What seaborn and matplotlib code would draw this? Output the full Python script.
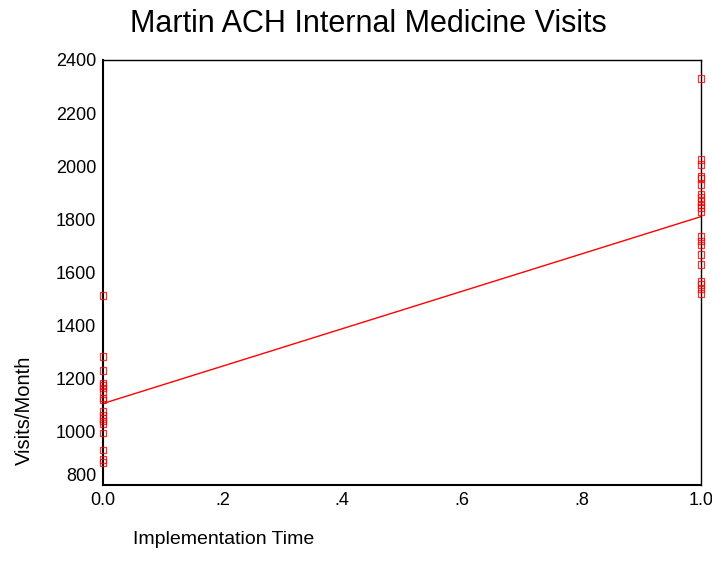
import matplotlib
matplotlib.use("Agg")
import matplotlib.pyplot as plt
import seaborn as sns
import pandas as pd
import numpy as np

# Data
before_visits = [1514, 1283, 1232, 1184, 1175, 1165, 1152, 1127, 1120, 1076,
                 1063, 1051, 1041, 1031, 995, 932, 896, 884]
after_visits = [2330, 2025, 2007, 1962, 1953, 1931, 1896, 1883, 1867, 1855,
                1845, 1830, 1735, 1719, 1704, 1668, 1630, 1567, 1554, 1538, 1520]
x_ticks = [0.0, 0.2, 0.4, 0.6, 0.8, 1.0]
x_tick_labels = ["0.0", ".2", ".4", ".6", ".8", "1.0"]
y_ticks = [800, 1000, 1200, 1400, 1600, 1800, 2000, 2200, 2400]

df = pd.DataFrame({
    "time": [0.0] * len(before_visits) + [1.0] * len(after_visits),
    "visits": before_visits + after_visits,
})

sns.set_style("white")
plt.rcParams["font.family"] = ["Liberation Sans", "DejaVu Sans"]
plt.rcParams["text.color"] = "black"

fig = plt.figure(figsize=(7.12, 5.73), dpi=100)
ax = fig.add_axes([103 / 712, 1 - 485 / 573, (701 - 103) / 712, (485 - 60) / 573])

sns.regplot(data=df, x="time", y="visits", ax=ax, ci=None, truncate=True,
            marker="s",
            scatter_kws=dict(s=22, facecolors="none", edgecolors="red",
                             linewidths=0.9, clip_on=False, zorder=3),
            line_kws=dict(color="red", lw=1.0, zorder=2))

ax.set_xlim(0, 1)
ax.set_ylim(800, 2400)
ax.set_xticks(x_ticks)
ax.set_xticklabels(x_tick_labels)
ax.set_yticks(y_ticks)
ax.set_yticklabels([str(v) for v in y_ticks])
ax.tick_params(axis="both", direction="out", length=3, width=1.5,
               labelsize=13, colors="black", labelcolor="black", pad=2)
# shift the lowest y label up like the reference
lbls = ax.get_yticklabels()
lbls[0].set_verticalalignment("bottom")
ax.set_xlabel("")
ax.set_ylabel("")
for side in ["left", "bottom", "top", "right"]:
    ax.spines[side].set_visible(True)
    ax.spines[side].set_color("black")
    ax.spines[side].set_linewidth(1.0)
ax.spines["left"].set_linewidth(1.5)
ax.spines["bottom"].set_linewidth(1.5)

fig.text(368 / 712, 1 - 32 / 573, "Martin ACH Internal Medicine Visits",
         ha="center", va="baseline", fontsize=22, color="black")
fig.text(24 / 712, 1 - 410 / 573, "Visits/Month", rotation=90,
         ha="center", va="center", fontsize=14.5, color="black")
fig.text(133 / 712, 1 - 544 / 573, "Implementation Time",
         ha="left", va="baseline", fontsize=14, color="black")

fig.savefig("out.png", dpi=100)
